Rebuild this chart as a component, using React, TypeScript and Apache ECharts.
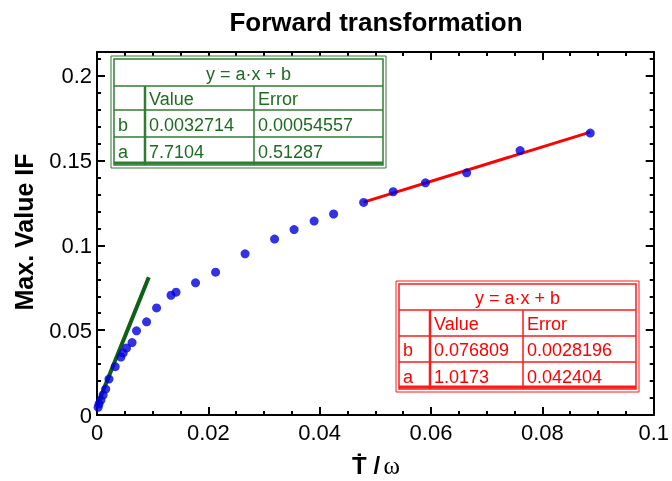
import React, { useEffect, useRef } from "react";
import * as echarts from "echarts";

// ---- data ----
const pointsX = [0.0002, 0.00036, 0.0007, 0.0011, 0.00156, 0.00215, 0.00327, 0.0043, 0.0047, 0.0053, 0.0063, 0.0071, 0.0089, 0.0107, 0.0133, 0.0142, 0.0177, 0.0213, 0.0266, 0.0319, 0.0354, 0.039, 0.0425, 0.0479, 0.0532, 0.059, 0.0664, 0.076, 0.0886];
const pointsY = [0.0045, 0.0065, 0.0088, 0.0118, 0.0153, 0.0212, 0.0285, 0.0342, 0.0366, 0.0395, 0.0427, 0.0496, 0.0549, 0.0631, 0.0706, 0.0724, 0.0779, 0.0842, 0.095, 0.1037, 0.1093, 0.1143, 0.1185, 0.1253, 0.1316, 0.1369, 0.1428, 0.1559, 0.1662];

const greenLineX = [0, 0.0093];
const greenLineY = [0.0055, 0.0812];
const redLineX = [0.0479, 0.0886];
const redLineY = [0.1255, 0.1668];

const fitHeader = "y = a·x + b";
const fitColumns = ["", "Value", "Error"];
const greenRows = [
  ["b", "0.0032714", "0.00054557"],
  ["a", "7.7104", "0.51287"],
];
const redRows = [
  ["b", "0.076809", "0.0028196"],
  ["a", "1.0173", "0.042404"],
];

const titleText = "Forward transformation";
const yTitle = "Max. Value IF";

const FONT = "'Liberation Sans', Arial, Helvetica, sans-serif";

function makeTable(
  cols: number[],
  rowsY: number[],
  lineColor: string,
  textColor: string,
  rows: string[][]
) {
  const els: any[] = [];
  const x0 = cols[0];
  const x1 = cols[cols.length - 1];
  const y0 = rowsY[0];
  const y1 = rowsY[rowsY.length - 1];
  els.push({
    type: "rect",
    shape: { x: x0 - 3, y: y0 - 3, width: x1 - x0 + 6, height: y1 - y0 + 6 },
    style: { fill: "#fff", stroke: lineColor, lineWidth: 1 },
    z: 10,
  });
  els.push({
    type: "rect",
    shape: { x: x0, y: y0, width: x1 - x0, height: y1 - y0 },
    style: { fill: "none", stroke: lineColor, lineWidth: 1.5 },
    z: 11,
  });
  for (let i = 1; i < rowsY.length - 1; i++) {
    els.push({
      type: "line",
      shape: { x1: x0, y1: rowsY[i], x2: x1, y2: rowsY[i] },
      style: { stroke: lineColor, lineWidth: 1.5 },
      z: 11,
    });
  }
  els.push({
    type: "line",
    shape: { x1: x0, y1: y1 - 2, x2: x1, y2: y1 - 2 },
    style: { stroke: lineColor, lineWidth: 3 },
    z: 11,
  });
  for (let j = 1; j < cols.length - 1; j++) {
    els.push({
      type: "line",
      shape: { x1: cols[j], y1: rowsY[1], x2: cols[j], y2: y1 },
      style: { stroke: lineColor, lineWidth: j === 1 ? 2.5 : 1.5 },
      z: 11,
    });
  }
  els.push({
    type: "text",
    x: (x0 + x1) / 2,
    y: (rowsY[0] + rowsY[1]) / 2 + 1,
    style: { text: fitHeader, fill: textColor, font: `18px ${FONT}`, align: "center", verticalAlign: "middle" },
    z: 12,
  });
  const allRows = [fitColumns, ...rows];
  allRows.forEach((r, ri) => {
    r.forEach((cell, ci) => {
      if (!cell) return;
      els.push({
        type: "text",
        x: cols[ci] + 4,
        y: (rowsY[ri + 1] + rowsY[ri + 2]) / 2 + 1,
        style: { text: cell, fill: textColor, font: `18px ${FONT}`, align: "left", verticalAlign: "middle" },
        z: 12,
      });
    });
  });
  return els;
}

export default function App() {
  const ref = useRef<HTMLDivElement>(null);
  useEffect(() => {
    if (!ref.current) return;
    const chart = echarts.init(ref.current, null, { renderer: "svg" });
    const axisCommon = {
      type: "value" as const,
      axisLine: { show: true, onZero: false, lineStyle: { color: "#000", width: 2 } },
      axisTick: { show: true, inside: true, length: 8, lineStyle: { color: "#000", width: 2 } },
      splitLine: { show: false },
    };
    const xBase = { ...axisCommon, min: 0, max: 0.1, interval: 0.02, minorTick: { show: true, splitNumber: 4, length: 4, lineStyle: { color: "#000", width: 2 } } };
    const yBase = { ...axisCommon, min: 0, max: 0.214, interval: 0.05, minorTick: { show: true, splitNumber: 5, length: 4, lineStyle: { color: "#000", width: 2 } } };
    chart.setOption({
      animation: false,
      grid: { left: 97, right: 16, top: 52, bottom: 66 },
      xAxis: [
        { ...xBase, position: "bottom", axisLabel: { color: "#000", fontSize: 22, fontFamily: FONT, margin: 6 } },
        { ...xBase, position: "top", axisLabel: { show: false } },
      ],
      yAxis: [
        { ...yBase, position: "left", axisLabel: { color: "#000", fontSize: 22, fontFamily: FONT, margin: 5, showMaxLabel: false } },
        { ...yBase, position: "right", axisLabel: { show: false } },
      ],
      series: [
        {
          type: "line",
          data: greenLineX.map((x, i) => [x, greenLineY[i]]),
          symbol: "none",
          lineStyle: { color: "#0f5f14", width: 4 },
          z: 2,
        },
        {
          type: "line",
          data: redLineX.map((x, i) => [x, redLineY[i]]),
          symbol: "none",
          lineStyle: { color: "#ff0000", width: 3 },
          z: 2,
        },
        {
          type: "scatter",
          data: pointsX.map((x, i) => [x, pointsY[i]]),
          symbol: "circle",
          symbolSize: 9,
          itemStyle: { color: "#0000dd" },
          z: 3,
        },
      ],
      graphic: [
        {
          type: "text",
          x: 376,
          y: 22,
          style: { text: titleText, fill: "#000", font: `bold 26px ${FONT}`, align: "center", verticalAlign: "middle" },
        },
        {
          type: "text",
          x: 24,
          y: 232,
          rotation: Math.PI / 2,
          style: { text: yTitle, fill: "#000", font: `bold 25px ${FONT}`, align: "center", verticalAlign: "middle" },
        },
        {
          type: "text",
          x: 376,
          y: 465,
          style: {
            text: "{a|Ṫ /} {b|ω}",
            align: "center",
            verticalAlign: "middle",
            rich: {
              a: { fontFamily: FONT, fontWeight: "bold", fontSize: 24, fill: "#000", color: "#000" },
              b: { fontFamily: "'Liberation Serif', 'Times New Roman', serif", fontSize: 25, fill: "#000", color: "#000" },
            },
          },
        },
        ...makeTable([114, 145, 254, 383], [59, 86, 110, 137, 165], "#2f7d32", "#1e6b22", greenRows),
        ...makeTable([399, 430, 523, 636], [284, 310, 336, 362, 389], "#ff1a1a", "#ff0000", redRows),
      ],
    });
    return () => chart.dispose();
  }, []);
  return <div ref={ref} style={{ position: "fixed", left: 0, top: 0, width: 672, height: 481 }} />;
}
